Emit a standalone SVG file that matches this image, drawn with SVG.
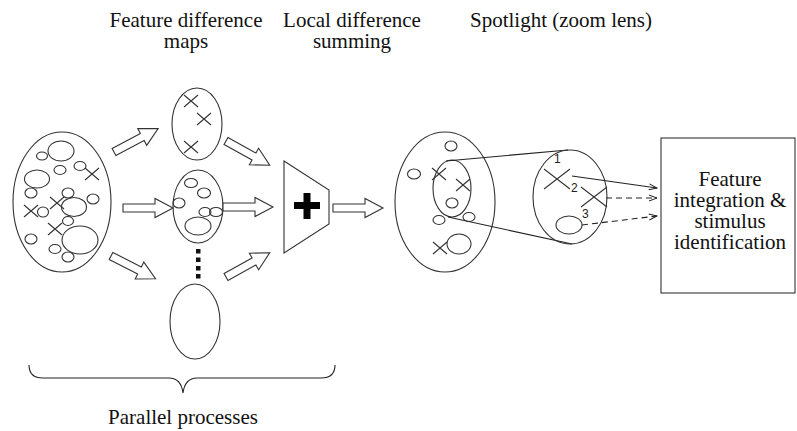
<svg xmlns="http://www.w3.org/2000/svg" width="797" height="431" viewBox="0 0 797 431">
<defs>
<style>
.o{fill:none;stroke:#333;stroke-width:1.1}
.w{fill:#fff;stroke:#333;stroke-width:1.1}
.t{font-family:"Liberation Serif","Times New Roman",serif;font-size:21px;fill:#111;text-anchor:middle}
.n{font-family:"Liberation Sans",Arial,sans-serif;font-size:12px;fill:#222}
.c{fill:none;stroke:#222;stroke-width:1.1}
.d{fill:none;stroke:#222;stroke-width:1.1;stroke-dasharray:6,4}
</style>
<path id="x" d="M-7,-6 L7,6 M-7,6 L7,-6"/>
<path id="xb" d="M-13,-10 L13,10 M-13,10 L13,-10"/>
<path id="arr" d="M0,-4 H32 V-9.5 L50,0 L32,9.5 V4 H0 Z"/>
<marker id="ah" viewBox="0 0 10 8" refX="9" refY="4" markerWidth="10" markerHeight="8" markerUnits="userSpaceOnUse" orient="auto">
<path d="M1,1 L9,4 L1,7" fill="none" stroke="#222" stroke-width="1"/>
</marker>
</defs>
<rect width="797" height="431" fill="#fff"/>

<g id="labels">
<text class="t" x="186" y="27">Feature difference</text>
<text class="t" x="186" y="48">maps</text>
<text class="t" x="352" y="27">Local difference</text>
<text class="t" x="352" y="48">summing</text>
<text class="t" x="561" y="27">Spotlight (zoom lens)</text>
<text class="t" x="183" y="424">Parallel processes</text>
</g>

<g id="input">
<ellipse class="o" cx="62" cy="202" rx="49" ry="70"/>
<g class="o">
<ellipse cx="61" cy="151" rx="13" ry="10"/>
<ellipse cx="42" cy="156" rx="5.5" ry="4"/>
<ellipse cx="60" cy="170" rx="6" ry="4.5"/>
<ellipse cx="80" cy="166" rx="6" ry="4.5"/>
<ellipse cx="37" cy="179" rx="12.5" ry="9"/>
<ellipse cx="31" cy="193" rx="6" ry="5"/>
<ellipse cx="68" cy="193" rx="6" ry="5"/>
<ellipse cx="93" cy="199" rx="6" ry="5"/>
<ellipse cx="74" cy="207" rx="12.5" ry="9.5"/>
<ellipse cx="43" cy="212" rx="5.5" ry="5"/>
<ellipse cx="68" cy="221" rx="5.5" ry="4.5"/>
<ellipse cx="80" cy="240" rx="18" ry="14"/>
<ellipse cx="31" cy="239" rx="6" ry="5"/>
<ellipse cx="55" cy="249" rx="6" ry="4.5"/>
<ellipse cx="68" cy="257" rx="6" ry="5"/>
<use href="#x" x="92" y="174"/>
<use href="#x" x="57" y="203"/>
<use href="#x" x="31" y="211"/>
<use href="#x" x="55" y="229"/>
</g>
</g>

<g id="map1">
<ellipse class="o" cx="197" cy="124" rx="25" ry="36"/>
<g class="o">
<use href="#x" x="191" y="101"/>
<use href="#x" x="204" y="119"/>
<use href="#x" x="191" y="147"/>
</g>
</g>

<g id="map2">
<ellipse class="o" cx="198" cy="206.5" rx="25" ry="36.5"/>
<g class="o">
<ellipse cx="191" cy="183" rx="6.5" ry="4.5"/>
<ellipse cx="204" cy="193" rx="6.5" ry="5"/>
<ellipse cx="179" cy="203" rx="6" ry="5"/>
<ellipse cx="205" cy="212" rx="6" ry="4.5"/>
<ellipse cx="216" cy="212" rx="6.5" ry="4.5"/>
<ellipse cx="198" cy="226" rx="13" ry="9"/>
</g>
</g>

<g id="dots" fill="#111">
<rect x="196" y="249" width="4.5" height="4.5"/>
<rect x="196" y="257.5" width="4.5" height="4.5"/>
<rect x="196" y="266" width="4.5" height="4.5"/>
<rect x="196" y="274" width="4.5" height="4.5"/>
</g>

<g id="map3">
<ellipse class="o" cx="195" cy="321.5" rx="25" ry="37.5"/>
</g>

<g id="summing">
<polygon class="w" points="284,161 329,190 329,224 284,253"/>
<rect x="294" y="202" width="26" height="7" fill="#000"/>
<rect x="303.5" y="193" width="7" height="26" fill="#000"/>
</g>

<g id="spotlight">
<ellipse class="o" cx="445" cy="202" rx="50" ry="70"/>
<ellipse class="o" cx="452" cy="188.5" rx="19" ry="28.5"/>
<g class="o">
<ellipse cx="451" cy="146" rx="6" ry="5"/>
<ellipse cx="414" cy="174" rx="6.5" ry="5"/>
<ellipse cx="452" cy="203" rx="6" ry="5"/>
<ellipse cx="439" cy="220" rx="6" ry="4.5"/>
<ellipse cx="469" cy="217" rx="6" ry="4.5"/>
<ellipse cx="459" cy="244" rx="12" ry="10"/>
<use href="#x" x="439" y="174"/>
<use href="#x" x="463" y="185"/>
<use href="#x" x="440" y="248"/>
</g>
</g>

<g id="lens">
<line class="c" x1="446" y1="161" x2="568" y2="150"/>
<line class="c" x1="448" y1="217" x2="572" y2="244"/>
<ellipse class="o" cx="570" cy="197" rx="37" ry="47"/>
<g class="o">
<use href="#xb" x="557" y="179"/>
<use href="#xb" x="594" y="197"/>
<ellipse cx="569" cy="225" rx="13" ry="9"/>
</g>
<text class="n" x="554" y="163">1</text>
<text class="n" x="571" y="192">2</text>
<text class="n" x="582" y="218">3</text>
</g>

<g id="output">
<rect class="w" x="661" y="138" width="134" height="155"/>
<text class="t" x="730" y="186">Feature</text>
<text class="t" x="730" y="207">integration &amp;</text>
<text class="t" x="730" y="228">stimulus</text>
<text class="t" x="730" y="249">identification</text>
</g>

<g id="connectors">
<use class="w" href="#arr" transform="translate(114,152) rotate(-28)"/>
<use class="w" href="#arr" transform="translate(123,208)"/>
<use class="w" href="#arr" transform="translate(111,256) rotate(27)"/>
<use class="w" href="#arr" transform="translate(226,141) rotate(29)"/>
<use class="w" href="#arr" transform="translate(223,207)"/>
<use class="w" href="#arr" transform="translate(226,277) rotate(-29)"/>
<use class="w" href="#arr" transform="translate(333,208)"/>
<line class="c" x1="572" y1="176" x2="657" y2="188" marker-end="url(#ah)"/>
<line class="d" x1="606" y1="198" x2="657" y2="198" marker-end="url(#ah)"/>
<line class="d" x1="582" y1="225" x2="657" y2="216" marker-end="url(#ah)"/>
<path class="c" d="M29,365 Q29,378 43,378 L169,378 Q181,378 183,393 Q185,378 197,378 L321,378 Q335,378 335,365"/>
</g>
</svg>
